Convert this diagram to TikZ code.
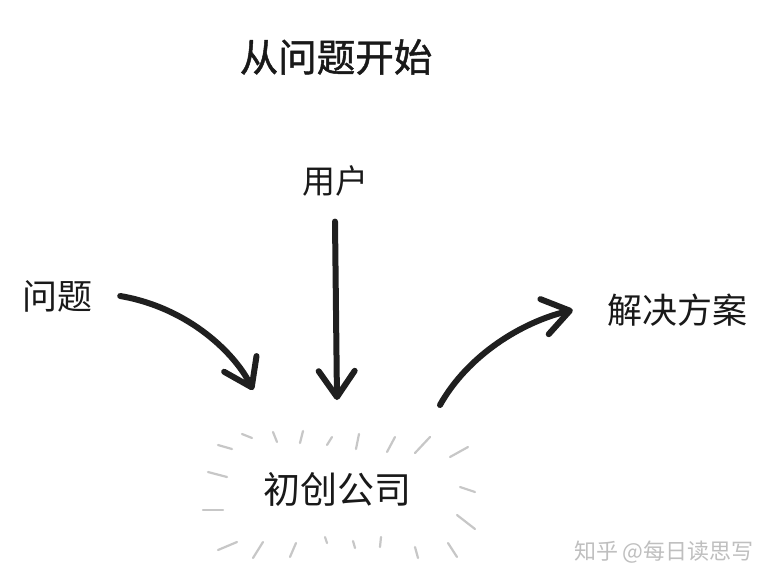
\documentclass[tikz,border=0pt]{standalone}
\usepackage{fontspec}
\setmainfont{Noto Sans CJK SC}
\newfontfamily\headfont[FakeBold=1.2]{Noto Sans CJK SC}
\usetikzlibrary{positioning,arrows.meta}

\begin{document}
\begin{tikzpicture}[
    x=1pt, y=-1pt,
    word/.style={inner sep=0pt, text=black!90, font=\fontsize{35}{40}\selectfont},
    title/.style={word, font=\headfont\fontsize{38.5}{44}\selectfont},
    arrow/.style={line width=6pt, line cap=round, line join=round, draw=black!88,
        -{Straight Barb[length=26pt, width=36pt, round]}},
    ray/.style={line width=2.2pt, line cap=round, draw=black!22},
    watermark/.style={inner sep=0pt, text=black!25, font=\fontsize{22}{26}\selectfont}
]
% Canvas
\fill[white] (0,0) rectangle (774,587);
\useasboundingbox (0,0) rectangle (774,587);

% Labels
\node[title] (start) at (336,57) {从问题开始};
\node[word, font=\fontsize{33}{38}\selectfont] (user) at (335,181) {用户};
\node[word] (problem) at (57,296) {问题};
\node[word] (solution) at (677,310) {解决方案};
\node[word, font=\fontsize{37}{42}\selectfont] (company) at (337,489) {初创公司};

% Arrow ends
\coordinate[right=28pt of problem] (pin);
\coordinate (pout) at (253,390);
\coordinate[below=25pt of user] (uin);
\coordinate (uout) at (337,400);
\coordinate (sin) at (440,405);
\coordinate[left=34pt of solution] (sout);

% Arrows
\draw[arrow] (pin) .. controls (190,308) and (236,355) .. (pout);
\draw[arrow] (uin) -- (uout);
\draw[arrow] (sin) .. controls (468,355) and (522,322) .. (sout);

% Rays round the company
\foreach \ax/\ay/\bx/\by in {
    242/434/252/438, 218/445/232/449, 273/432/277/442, 303/431/300/443,
    332/437/327/445, 359/434/356/449, 395/437/387/452, 430/437/415/453,
    468/447/450/457, 208/472/227/477, 460/487/475/492, 203/510/223/510,
    457/515/475/529, 218/550/237/542, 253/558/263/542, 290/557/296/543,
    327/543/325/537, 355/548/353/541, 380/547/381/537, 415/547/418/558,
    448/543/457/557}
    \draw[ray] (\ax,\ay) -- (\bx,\by);

% Watermark
\node[watermark, anchor=east] (zhihu) at (754,552) {知乎 @每日读思写};
\end{tikzpicture}
\end{document}
